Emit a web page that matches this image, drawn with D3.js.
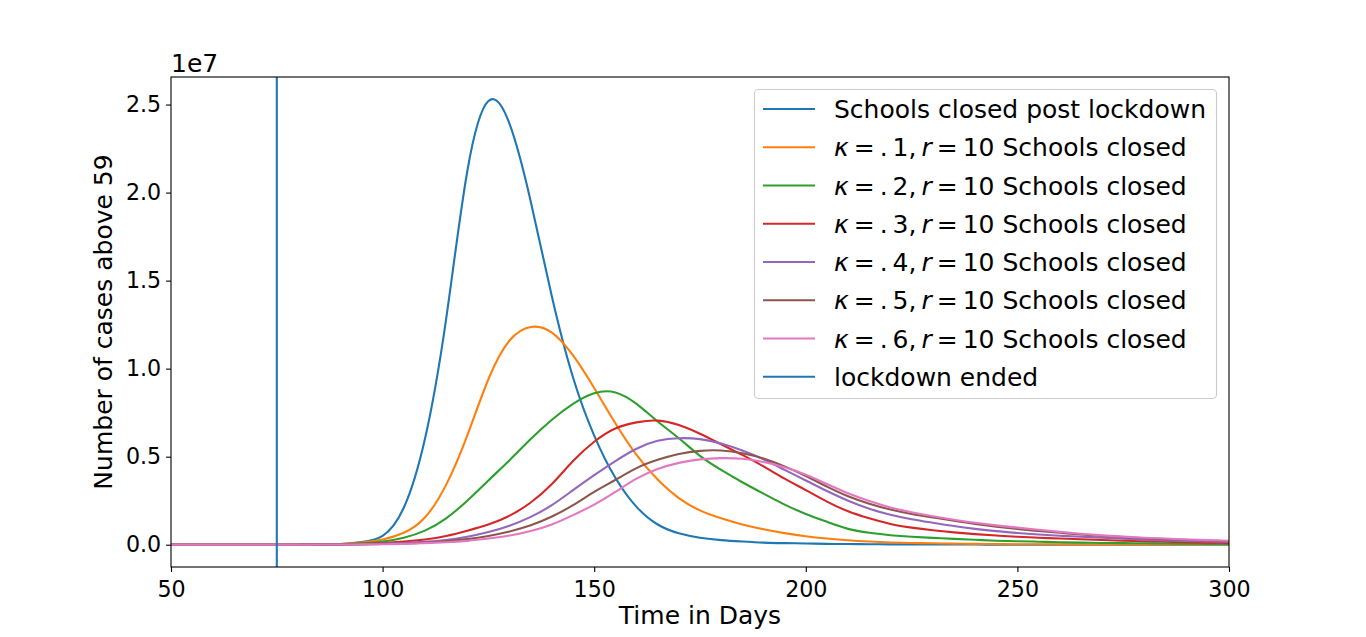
<!DOCTYPE html>
<html>
<head>
<meta charset="utf-8">
<script src="https://cdn.jsdelivr.net/npm/d3@7"></script>
<style>
  body { margin: 0; background: #fff; }
  svg { font-family: "DejaVu Sans", sans-serif; }
</style>
</head>
<body>
<svg id="chart" width="1366" height="637"></svg>
<script>
// days sampled along the x axis, every 5 days
var days = d3.range(50, 301, 5);

// cases above 59, in units of 1e7, one value per sampled day
var closedPostLockdown = [0, 0, 0, 0, 0, 0, 0, 0.001, 0.004, 0.015, 0.05, 0.21, 0.60, 1.28, 2.12, 2.52, 2.39, 1.95, 1.41, 0.95,
                          0.62, 0.38, 0.215, 0.115, 0.065, 0.04, 0.026, 0.018, 0.012, 0.009, 0.007, 0.005, 0.004, 0.003, 0.002, 0.002,
                          0.001, 0.001, 0.001, 0, 0, 0, 0, 0, 0, 0, 0, 0, 0, 0, 0];
var kappa1 = [0, 0, 0, 0, 0, 0, 0, 0.001, 0.004, 0.012, 0.03, 0.068, 0.155, 0.34, 0.62, 0.94, 1.16, 1.237, 1.205, 1.075,
              0.89, 0.69, 0.51, 0.37, 0.265, 0.195, 0.15, 0.115, 0.088, 0.066, 0.048, 0.035, 0.025, 0.018, 0.013, 0.01,
              0.008, 0.006, 0.005, 0.004, 0.003, 0.003, 0.002, 0.002, 0.001, 0.001, 0.001, 0.001, 0.001, 0.001, 0.001];
var kappa2 = [0, 0, 0, 0, 0, 0, 0, 0.001, 0.003, 0.008, 0.018, 0.04, 0.08, 0.15, 0.25, 0.365, 0.48, 0.60, 0.71, 0.80,
              0.86, 0.865, 0.80, 0.70, 0.605, 0.505, 0.425, 0.355, 0.29, 0.228, 0.175, 0.13, 0.09, 0.068, 0.054, 0.045,
              0.039, 0.033, 0.028, 0.023, 0.02, 0.017, 0.014, 0.012, 0.01, 0.009, 0.008, 0.007, 0.006, 0.005, 0.005];
var kappa3 = [0, 0, 0, 0, 0, 0, 0, 0.001, 0.002, 0.005, 0.01, 0.018, 0.03, 0.05, 0.08, 0.115, 0.165, 0.24, 0.345, 0.475,
              0.585, 0.66, 0.695, 0.705, 0.68, 0.63, 0.57, 0.51, 0.445, 0.375, 0.31, 0.245, 0.19, 0.15, 0.118, 0.097,
              0.082, 0.07, 0.06, 0.052, 0.045, 0.04, 0.035, 0.031, 0.027, 0.023, 0.02, 0.017, 0.014, 0.012, 0.01];
var kappa4 = [0, 0, 0, 0, 0, 0, 0, 0.001, 0.002, 0.003, 0.006, 0.01, 0.016, 0.027, 0.045, 0.072, 0.108, 0.158, 0.225, 0.31,
              0.395, 0.475, 0.545, 0.59, 0.605, 0.60, 0.575, 0.535, 0.485, 0.425, 0.365, 0.305, 0.25, 0.205, 0.17, 0.145,
              0.125, 0.106, 0.09, 0.077, 0.067, 0.058, 0.051, 0.045, 0.04, 0.034, 0.029, 0.025, 0.022, 0.019, 0.016];
var kappa5 = [0, 0, 0, 0, 0, 0, 0, 0.001, 0.001, 0.002, 0.004, 0.007, 0.012, 0.02, 0.032, 0.05, 0.075, 0.11, 0.16, 0.225,
              0.30, 0.368, 0.435, 0.482, 0.515, 0.533, 0.535, 0.52, 0.49, 0.445, 0.39, 0.33, 0.275, 0.233, 0.20, 0.175,
              0.155, 0.136, 0.118, 0.103, 0.09, 0.078, 0.068, 0.058, 0.05, 0.043, 0.037, 0.032, 0.028, 0.024, 0.02];
var kappa6 = [0, 0, 0, 0, 0, 0, 0, 0.001, 0.001, 0.002, 0.003, 0.005, 0.009, 0.014, 0.022, 0.035, 0.052, 0.078, 0.115, 0.168,
              0.228, 0.30, 0.375, 0.43, 0.465, 0.485, 0.492, 0.488, 0.47, 0.44, 0.398, 0.345, 0.292, 0.248, 0.212, 0.185,
              0.162, 0.142, 0.125, 0.11, 0.097, 0.085, 0.073, 0.062, 0.053, 0.046, 0.04, 0.035, 0.03, 0.026, 0.023];

var kappaLabels = ["1", "2", "3", "4", "5", "6"];
var lockdownEndDay = 75;
var xTicks = [50, 100, 150, 200, 250, 300];
var yTicks = [0, 0.5, 1.0, 1.5, 2.0, 2.5];

var palette = ["#1f77b4", "#ff7f0e", "#2ca02c", "#d62728", "#9467bd", "#8c564b", "#e377c2"];

var series = [closedPostLockdown, kappa1, kappa2, kappa3, kappa4, kappa5, kappa6].map(function (vals, i) {
  return {
    values: vals.map(function (v, j) { return { day: days[j], cases: v }; }),
    color: palette[i],
    kappa: i === 0 ? null : kappaLabels[i - 1]
  };
});

var axLeft = 171, axRight = 1229, axTop = 77, axBottom = 567;
var thin = "\u2009";

var x = d3.scaleLinear().domain([50, 300]).range([axLeft, axRight]);
var y = d3.scaleLinear().domain([-0.1265, 2.6565]).range([axBottom, axTop]);

var svg = d3.select("#chart");

svg.append("defs").append("clipPath").attr("id", "plotclip")
  .append("rect").attr("x", axLeft).attr("y", axTop).attr("width", axRight - axLeft).attr("height", axBottom - axTop);

var line = d3.line()
  .x(function (d) { return x(d.day); })
  .y(function (d) { return y(d.cases); })
  .curve(d3.curveNatural);

var plot = svg.append("g").attr("clip-path", "url(#plotclip)");

plot.selectAll(".series")
  .data(series)
  .enter().append("path")
    .attr("class", "series")
    .attr("d", function (d) { return line(d.values); })
    .attr("fill", "none")
    .attr("stroke", function (d) { return d.color; })
    .attr("stroke-width", 2.1);

plot.append("line")
  .attr("x1", x(lockdownEndDay)).attr("x2", x(lockdownEndDay))
  .attr("y1", axTop).attr("y2", axBottom)
  .attr("stroke", palette[0])
  .attr("stroke-width", 2.1);

// axes
var xAxis = d3.axisBottom(x).tickValues(xTicks).tickSizeOuter(0).tickSize(4.9).tickPadding(4);
var yAxis = d3.axisLeft(y).tickValues(yTicks).tickFormat(d3.format(".1f")).tickSizeOuter(0).tickSize(4.9).tickPadding(4.9);

var gx = svg.append("g").attr("transform", "translate(0," + axBottom + ")").call(xAxis);
var gy = svg.append("g").attr("transform", "translate(" + axLeft + ",0)").call(yAxis);

[gx, gy].forEach(function (g) {
  g.select(".domain").remove();
  g.selectAll(".tick line").attr("stroke", "#000").attr("stroke-width", 1.1);
  g.selectAll(".tick text").attr("fill", "#000").style("font-size", "22.2px").style("font-family", "DejaVu Sans");
});
gx.selectAll(".tick text").attr("dy", "0.95em");

// frame
svg.append("rect")
  .attr("x", axLeft).attr("y", axTop).attr("width", axRight - axLeft).attr("height", axBottom - axTop)
  .attr("fill", "none").attr("stroke", "#000").attr("stroke-width", 1.1);

svg.append("text")
  .attr("x", axLeft).attr("y", 72)
  .style("font-size", "25px")
  .text("1e7");

svg.append("text")
  .attr("x", (axLeft + axRight) / 2).attr("y", 624)
  .attr("text-anchor", "middle")
  .style("font-size", "25px")
  .text("Time in Days");

svg.append("text")
  .attr("transform", "translate(112," + (axTop + axBottom) / 2 + ") rotate(-90)")
  .attr("text-anchor", "middle")
  .style("font-size", "25px")
  .text("Number of cases above 59");

// legend
var legend = svg.append("g");
legend.append("rect")
  .attr("x", 754.5).attr("y", 89.5).attr("width", 462).attr("height", 309)
  .attr("rx", 4).attr("ry", 4)
  .attr("fill", "#fff").attr("fill-opacity", 0.8)
  .attr("stroke", "#cccccc").attr("stroke-width", 1.1);

var legendItems = series.concat([{ color: palette[0], label: "lockdown ended" }]);

legendItems.forEach(function (d, i) {
  var cy = 109 + i * 38.25;
  legend.append("line")
    .attr("x1", 763).attr("x2", 815)
    .attr("y1", cy).attr("y2", cy)
    .attr("stroke", d.color).attr("stroke-width", 2.1);
  var t = legend.append("text")
    .attr("x", 834).attr("y", cy + 9)
    .style("font-size", "25px");
  if (d.label) {
    t.text(d.label);
  } else if (d.kappa === null) {
    t.text("Schools closed post lockdown");
  } else {
    t.append("tspan").style("font-style", "italic").text("κ");
    t.append("tspan").text(thin + "=" + thin + "." + thin + d.kappa + "," + thin);
    t.append("tspan").style("font-style", "italic").text("r");
    t.append("tspan").text(thin + "=" + thin + "10 Schools closed");
  }
});
</script>
</body>
</html>
